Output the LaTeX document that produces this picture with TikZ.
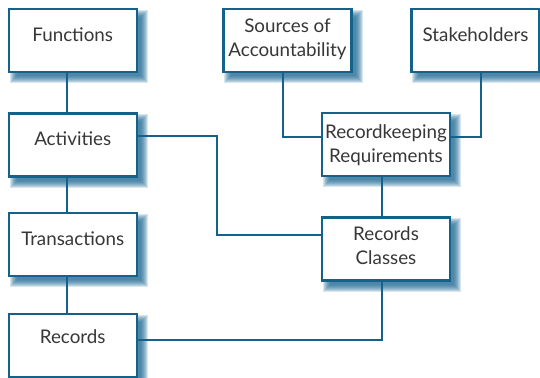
\documentclass[tikz,border=0pt]{standalone}
\usepackage{fontspec}
\setmainfont{Lato}
\definecolor{boxblue}{RGB}{20,98,138}
\definecolor{shadowblue}{RGB}{25,100,145}
\definecolor{txtgray}{RGB}{55,55,55}
\pgfdeclarelayer{bg}
\pgfsetlayers{bg,main}
\newcommand\boxshadow[1]{%
  \begin{pgfonlayer}{bg}
    \foreach \e in {-3,...,4}{%
      \fill[shadowblue,opacity=0.17]
        ([xshift=6pt-\e pt,yshift=-6pt-\e pt]#1.south west) rectangle
        ([xshift=6pt+\e pt,yshift=-6pt+\e pt]#1.north east);
    }
  \end{pgfonlayer}}
\tikzset{
  boxn/.style={draw=boxblue,line width=2.2pt,fill=white,minimum width=128pt,minimum height=63pt,inner sep=0pt},
  txt/.style={text=txtgray,font=\fontsize{18.8}{24}\selectfont,align=center,inner sep=0pt},
  conn/.style={draw=boxblue,line width=2.2pt}
}
\begin{document}
\begin{tikzpicture}[x=1pt,y=-1pt]
\useasboundingbox (0,0) rectangle (540,377);
% boxes
\node[boxn] (f) at (72.7,40.5) {};
\node[boxn] (a) at (72.7,145) {};
\node[boxn] (t) at (72.7,244.5) {};
\node[boxn] (r) at (72.7,345.5) {};
\node[boxn] (s) at (287.5,40.5) {};
\node[boxn] (k) at (475.5,40.5) {};
\node[boxn] (rr) at (386,144.5) {};
\node[boxn] (rc) at (386,249) {};
\boxshadow{f}\boxshadow{a}\boxshadow{t}\boxshadow{r}
\boxshadow{s}\boxshadow{k}\boxshadow{rr}\boxshadow{rc}
% texts
\node[txt] (ft) at (72.7,35) {Functions};
\node[txt] (at) at (72.7,139) {Activities};
\node[txt] (tt) at (72.7,239) {Transactions};
\node[txt] (rt) at (72.7,337) {Records};
\node[txt] (st) at (287.5,39.5) {Sources of\\Accountability};
\node[txt] (kt) at (475.5,35) {Stakeholders};
\node[txt] (rrt) at (386,145) {Recordkeeping\\Requirements};
\node[txt] (rct) at (386,246) {Records\\Classes};
% connectors
\draw[conn] (f.south -| 67,0) -- (a.north -| 67,0);
\draw[conn] (a.south -| 67,0) -- (t.north -| 67,0);
\draw[conn] (t.south -| 67,0) -- (r.north -| 67,0);
\draw[conn] (a.east |- 0,136) -- (217,136) -- (217,235) -- (rc.west |- 0,235);
\draw[conn] (s.south -| 283,0) |- (rr.west |- 0,137);
\draw[conn] (k.south -| 481,0) |- (rr.east |- 0,137);
\draw[conn] (rr.south -| 382,0) -- (rc.north -| 382,0);
\draw[conn] (r.east |- 0,340) -| (rc.south -| 382,0);
\end{tikzpicture}
\end{document}
